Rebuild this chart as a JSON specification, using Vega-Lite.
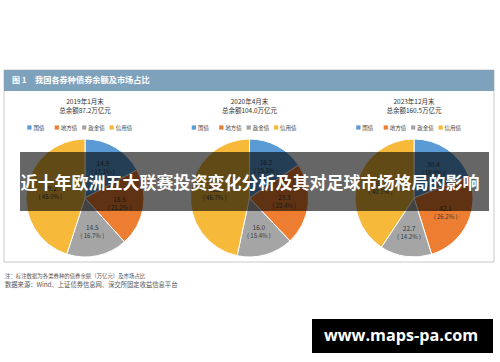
{
  "$schema": "https://vega.github.io/schema/vega-lite/v6.json",
  "width": 500,
  "height": 362,
  "autosize": {"type": "none"},
  "padding": 0,
  "background": "white",
  "config": {"view": {"stroke": null}, "text": {"font": "Noto Sans CJK SC"}},
  "datasets": {
    "bonds": [
      {"period": "2019年1月末", "type": "国债", "idx": 1, "value": 14.9, "pct": 17.1},
      {"period": "2019年1月末", "type": "地方债", "idx": 2, "value": 18.5, "pct": 21.2},
      {"period": "2019年1月末", "type": "政金债", "idx": 3, "value": 14.5, "pct": 16.7},
      {"period": "2019年1月末", "type": "信用债", "idx": 4, "value": 39.2, "pct": 45.0},
      {"period": "2020年4月末", "type": "国债", "idx": 1, "value": 16.2, "pct": 15.5},
      {"period": "2020年4月末", "type": "地方债", "idx": 2, "value": 23.3, "pct": 22.4},
      {"period": "2020年4月末", "type": "政金债", "idx": 3, "value": 16.0, "pct": 15.4},
      {"period": "2020年4月末", "type": "信用债", "idx": 4, "value": 48.5, "pct": 46.7},
      {"period": "2023年12月末", "type": "国债", "idx": 1, "value": 30.4, "pct": 18.9},
      {"period": "2023年12月末", "type": "地方债", "idx": 2, "value": 42.1, "pct": 26.2},
      {"period": "2023年12月末", "type": "政金债", "idx": 3, "value": 22.7, "pct": 14.2},
      {"period": "2023年12月末", "type": "信用债", "idx": 4, "value": 65.3, "pct": 40.7}
    ],
    "periods": [
      {"period": "2019年1月末", "total": "87.2"},
      {"period": "2020年4月末", "total": "104.0"},
      {"period": "2023年12月末", "total": "160.5"}
    ]
  },
  "resolve": {"scale": {"x": "independent"}},
  "layer": [
    {
      "data": {"values": [{}]},
      "mark": {"type": "rect", "x": 4, "x2": 494, "y": 70, "y2": 262, "fill": "white", "stroke": "#c9c9c9", "strokeWidth": 1},
      "encoding": {}
    },
    {
      "data": {"values": [{}]},
      "mark": {"type": "rect", "x": 4, "x2": 494, "y": 70, "y2": 91, "fill": "#7fa2bc"},
      "encoding": {}
    },
    {
      "data": {"values": [{}]},
      "mark": {"type": "text", "text": "图 1", "x": 12, "y": 81, "align": "left", "baseline": "middle", "fontSize": 8, "fontWeight": "bold", "fill": "white"},
      "encoding": {}
    },
    {
      "data": {"values": [{}]},
      "mark": {"type": "text", "text": "我国各券种债券余额及市场占比", "x": 35, "y": 81, "align": "left", "baseline": "middle", "fontSize": 8.2, "fontWeight": "bold", "fill": "white"},
      "encoding": {}
    },
    {
      "data": {"name": "bonds"},
      "transform": [
        {"stack": "value", "groupby": ["period"], "sort": [{"field": "idx", "order": "ascending"}], "as": ["s0", "s1"], "offset": "normalize"},
        {"calculate": "(datum.s0 + datum.s1) / 2", "as": "mid"},
        {"calculate": "format(datum.value, '.1f')", "as": "vlabel"},
        {"calculate": "'( ' + format(datum.pct, '.1f') + '% )'", "as": "plabel"},
        {"calculate": "datum.period + '|' + datum.type", "as": "key"}
      ],
      "resolve": {"scale": {"x": "independent"}},
      "layer": [
        {
          "mark": {"type": "arc", "outerRadius": 59, "y": 198, "stroke": "white", "strokeWidth": 1},
          "encoding": {
            "x": {"field": "period", "type": "nominal", "sort": null, "scale": {"type": "point", "range": [85, 414], "padding": 0}, "axis": null},
            "theta": {"field": "s0", "type": "quantitative", "stack": null, "scale": {"domain": [0, 1], "range": [0, 6.283185307179586]}},
            "theta2": {"field": "s1"},
            "color": {"field": "type", "type": "nominal", "scale": {"domain": ["国债", "地方债", "政金债", "信用债"], "range": ["#5b9bd5", "#ed7d31", "#a5a5a5", "#f6b93a"]}, "legend": null}
          }
        },
        {
          "mark": {"type": "text", "radius": 35, "y": 198, "dy": -4, "fontSize": 6.5, "fill": "#3a3a3a"},
          "encoding": {
            "x": {"field": "period", "type": "nominal", "sort": null, "scale": {"type": "point", "range": [85, 414], "padding": 0}, "axis": null},
            "theta": {"field": "mid", "type": "quantitative", "stack": null},
            "text": {"field": "vlabel"}
          }
        },
        {
          "mark": {"type": "text", "radius": 35, "y": 198, "dy": 4, "fontSize": 6, "fill": "#3a3a3a"},
          "encoding": {
            "x": {"field": "period", "type": "nominal", "sort": null, "scale": {"type": "point", "range": [85, 414], "padding": 0}, "axis": null},
            "theta": {"field": "mid", "type": "quantitative", "stack": null},
            "text": {"field": "plabel"}
          }
        },
        {
          "mark": {"type": "square", "y": 127.5, "size": 18, "filled": true, "opacity": 1},
          "encoding": {
            "x": {"field": "key", "type": "nominal", "axis": null, "scale": {"type": "point", "padding": 0, "range": [29.4, 440.6], "domain": ["2019年1月末|国债", "2019年1月末|地方债", "2019年1月末|政金债", "2019年1月末|信用债", "g1", "g2", "2020年4月末|国债", "2020年4月末|地方债", "2020年4月末|政金债", "2020年4月末|信用债", "g3", "g4", "2023年12月末|国债", "2023年12月末|地方债", "2023年12月末|政金债", "2023年12月末|信用债"]}},
            "color": {"field": "type", "type": "nominal", "legend": null}
          }
        },
        {
          "mark": {"type": "text", "y": 127.5, "dx": 4, "align": "left", "baseline": "middle", "fontSize": 5.5, "fill": "#444"},
          "encoding": {
            "x": {"field": "key", "type": "nominal", "axis": null, "scale": {"type": "point", "padding": 0, "range": [29.4, 440.6], "domain": ["2019年1月末|国债", "2019年1月末|地方债", "2019年1月末|政金债", "2019年1月末|信用债", "g1", "g2", "2020年4月末|国债", "2020年4月末|地方债", "2020年4月末|政金债", "2020年4月末|信用债", "g3", "g4", "2023年12月末|国债", "2023年12月末|地方债", "2023年12月末|政金债", "2023年12月末|信用债"]}},
            "text": {"field": "type"}
          }
        }
      ]
    },
    {
      "data": {"name": "periods"},
      "transform": [{"calculate": "'总余额' + datum.total + '万亿元'", "as": "line2"}],
      "layer": [
        {
          "mark": {"type": "text", "y": 102, "baseline": "middle", "fontSize": 6.5, "fill": "#333"},
          "encoding": {"x": {"field": "period", "type": "nominal", "sort": null, "scale": {"type": "point", "range": [85, 414], "padding": 0}, "axis": null}, "text": {"field": "period"}}
        },
        {
          "mark": {"type": "text", "y": 111, "baseline": "middle", "fontSize": 6.5, "fill": "#333"},
          "encoding": {"x": {"field": "period", "type": "nominal", "sort": null, "scale": {"type": "point", "range": [85, 414], "padding": 0}, "axis": null}, "text": {"field": "line2"}}
        }
      ]
    },
    {
      "data": {"values": [{}]},
      "mark": {"type": "text", "text": "注：标注数据为各类券种的债券余额（万亿元）及市场占比", "x": 5, "y": 276, "align": "left", "baseline": "middle", "fontSize": 5.4, "fill": "#555"},
      "encoding": {}
    },
    {
      "data": {"values": [{}]},
      "mark": {"type": "text", "text": "数据来源：Wind、上证债券信息网、深交所固定收益信息平台", "x": 5, "y": 285, "align": "left", "baseline": "middle", "fontSize": 6.3, "fill": "#555"},
      "encoding": {}
    },
    {
      "data": {"values": [{}]},
      "mark": {"type": "rect", "x": 20, "x2": 489, "y": 152, "y2": 211, "fill": "black", "opacity": 0.6},
      "encoding": {}
    },
    {
      "data": {"values": [{}]},
      "mark": {"type": "text", "text": "近十年欧洲五大联赛投资变化分析及其对足球市场格局的影响", "x": 250, "y": 184, "align": "center", "baseline": "middle", "fontSize": 17, "fontWeight": "bold", "fill": "white"},
      "encoding": {}
    },
    {
      "data": {"values": [{}]},
      "mark": {"type": "rect", "x": 312, "x2": 493, "y": 319, "y2": 353, "fill": "black"},
      "encoding": {}
    },
    {
      "data": {"values": [{}]},
      "mark": {"type": "text", "text": "www.maps-pa.com", "x": 401, "y": 336, "align": "center", "baseline": "middle", "font": "Open Sans", "fontSize": 16.2, "fontWeight": "bold", "fill": "white"},
      "encoding": {}
    }
  ]
}
